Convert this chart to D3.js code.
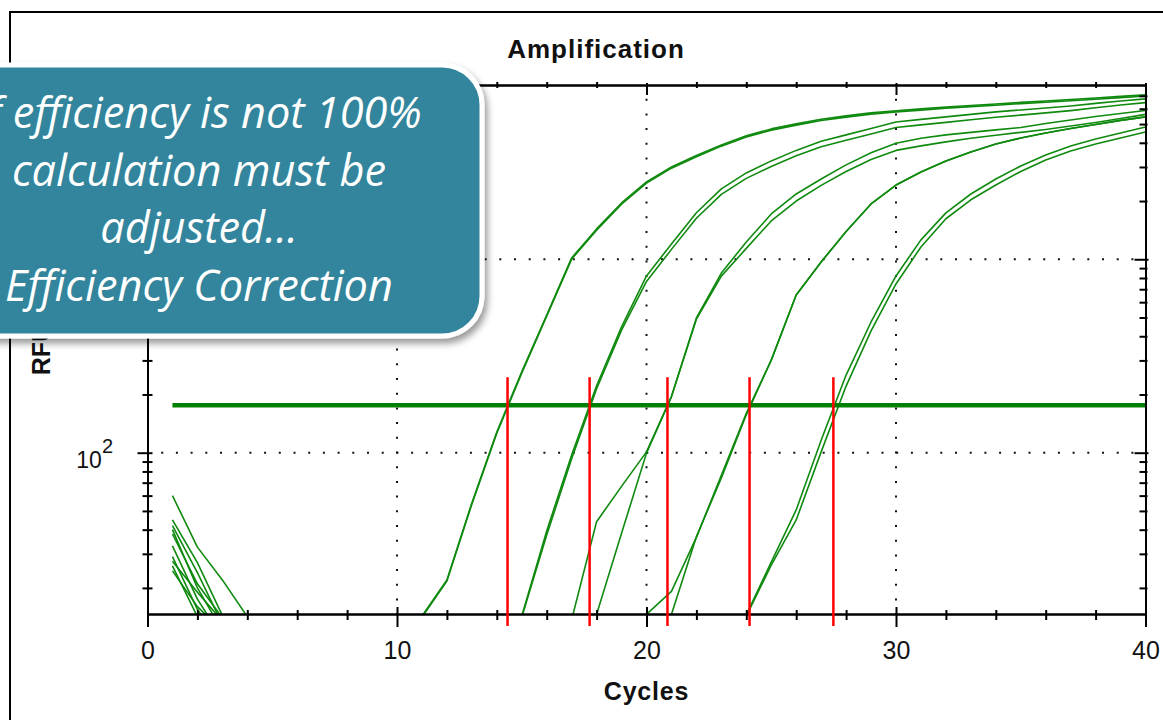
<!DOCTYPE html>
<html>
<head>
<meta charset="utf-8">
<script src="https://cdn.jsdelivr.net/npm/d3@7"></script>
<style>
  html, body { margin: 0; padding: 0; background: #fff; }
  svg { display: block; }
</style>
</head>
<body>
<svg id="chart" width="1163" height="720"></svg>
<script>
// ---- data -------------------------------------------------------------
// RFU readings per cycle (cycles 1..40), baseline-subtracted, one array per well.
const cycles = d3.range(1, 41);

const wellA1 = [60, 32.5, 22, 14.2, 10, 10, 10, 10, 10, 10,
  14.3, 22, 55, 128, 262, 515, 1016, 1435, 1955, 2510,
  3000, 3440, 3900, 4345, 4720, 5010, 5290, 5510, 5710, 5850,
  5990, 6130, 6240, 6350, 6470, 6580, 6700, 6820, 6950, 7080];
const wellA2 = [45, 27, 14.4, 10, 10, 10, 10, 10, 10, 10,
  14.1, 21.7, 54.2, 126, 258, 508, 1002, 1415, 1927, 2474,
  2957, 3391, 3845, 4283, 4653, 4939, 5215, 5432, 5629, 5767,
  5905, 6043, 6151, 6260, 6378, 6486, 6605, 6723, 6851, 6980];
const wellB1 = [42, 24, 13, 10, 10, 10, 10, 10, 10, 10,
  10, 10, 10, 10, 14.3, 39.4, 97.3, 222, 447, 820,
  1200, 1740, 2310, 2795, 3225, 3655, 4075, 4395, 4745, 5125,
  5285, 5445, 5610, 5780, 5915, 6055, 6205, 6395, 6580, 6745];
const wellB2 = [40, 20, 12, 10, 10, 10, 10, 10, 10, 10,
  10, 10, 10, 10, 14.1, 37.5, 93, 214, 430, 768,
  1125, 1630, 2165, 2620, 3020, 3425, 3820, 4120, 4445, 4800,
  4950, 5100, 5260, 5420, 5560, 5710, 5870, 6070, 6270, 6450];
const wellC1 = [33, 17.5, 11, 10, 10, 10, 10, 10, 10, 10,
  10, 10, 10, 10, 10, 10, 13.7, 44, 67, 101,
  195, 497, 849, 1228, 1715, 2175, 2600, 3075, 3550, 3975,
  4220, 4395, 4530, 4665, 4800, 5035, 5250, 5470, 5675, 5875];
const wellC2 = [29, 15.5, 10, 10, 10, 10, 10, 10, 10, 10,
  10, 10, 10, 10, 10, 10, 10, 14.6, 38.3, 99.5,
  195, 490, 818, 1138, 1578, 2000, 2410, 2845, 3280, 3655,
  3855, 4045, 4220, 4375, 4530, 4690, 4885, 5095, 5345, 5610];
const wellD1 = [26, 14.2, 10, 10, 10, 10, 10, 10, 10, 10,
  10, 10, 10, 10, 10, 10, 10, 10, 10, 14.6,
  19.2, 36.5, 76.5, 160, 301, 653, 968, 1393, 1932, 2420,
  2825, 3220, 3590, 3945, 4240, 4500, 4745, 4975, 5225, 5445];
const wellD2 = [27.5, 19, 13.5, 10, 10, 10, 10, 10, 10, 10,
  10, 10, 10, 10, 10, 10, 10, 10, 10, 10,
  14.6, 36.8, 74, 157, 301, 653, 968, 1393, 1932, 2420,
  2825, 3220, 3590, 3945, 4240, 4500, 4745, 4975, 5225, 5445];
const wellE1 = [24.5, 16, 12, 10, 10, 10, 10, 10, 10, 10,
  10, 10, 10, 10, 10, 10, 10, 10, 10, 10,
  10, 10, 10, 14.5, 27.2, 50.6, 116, 252, 474, 820,
  1260, 1738, 2175, 2600, 3035, 3460, 3855, 4190, 4500, 4830];
const wellE2 = [38, 21, 14, 10, 10, 10, 10, 10, 10, 10,
  10, 10, 10, 10, 10, 10, 10, 10, 10, 10,
  10, 10, 10, 14.3, 26.2, 44.9, 101, 221, 426, 745,
  1158, 1620, 2030, 2420, 2845, 3260, 3630, 3945, 4240, 4550];

const threshold = 176;                                  // RFU
const ctValues = [14.43, 17.72, 20.84, 24.13, 27.49];   // threshold cycles
const xMajorTicks = [0, 10, 20, 30, 40];
const xMinorTicks = [2, 4, 6, 8, 12, 14, 16, 18, 22, 24, 26, 28, 32, 34, 36, 38];
const yDecades = [100, 1000];
const yMinorTicks = [20, 30, 40, 50, 60, 70, 80, 90,
  200, 300, 400, 500, 600, 700, 800, 900,
  2000, 3000, 4000, 5000, 6000, 7000];
const calloutLines = ["If efficiency is not 100%", "calculation must be", "adjusted…", "Efficiency Correction"];

// ---- layout -----------------------------------------------------------
const W = 1163, H = 720;
const plot = { left: 147.5, right: 1145.5, top: 85, bottom: 614 };
const sans = "'Liberation Sans', Arial, sans-serif";

const svg = d3.select("#chart");
const x = d3.scaleLinear().domain([0, 40]).range([plot.left, plot.right]);
const y = d3.scaleLog().domain([14.66, 7960]).range([plot.bottom, plot.top]);

const defs = svg.append("defs");
defs.append("clipPath").attr("id", "plot-clip")
  .append("rect")
  .attr("x", plot.left).attr("y", plot.top)
  .attr("width", plot.right - plot.left).attr("height", plot.bottom - plot.top);
const shadow = defs.append("filter").attr("id", "callout-shadow")
  .attr("x", "-10%").attr("y", "-10%").attr("width", "125%").attr("height", "130%");
shadow.append("feDropShadow")
  .attr("dx", 3).attr("dy", 5).attr("stdDeviation", 3.5)
  .attr("flood-color", "#000").attr("flood-opacity", 0.4);

// panel frame
svg.append("path")
  .attr("d", `M10,${H} V12 H${W}`)
  .attr("fill", "none").attr("stroke", "#000").attr("stroke-width", 2);

// title
svg.append("text")
  .attr("x", 596).attr("y", 58)
  .attr("text-anchor", "middle")
  .attr("font-family", sans).attr("font-weight", "bold").attr("font-size", 26)
  .attr("letter-spacing", 1)
  .attr("fill", "#111")
  .text("Amplification");

// dotted grid
const grid = svg.append("g")
  .attr("stroke", "#111").attr("stroke-width", 2)
  .attr("stroke-dasharray", "2 12.7").attr("stroke-dashoffset", 1);
grid.selectAll("line.gx").data([10, 20, 30]).join("line").attr("class", "gx")
  .attr("x1", d => x(d)).attr("x2", d => x(d))
  .attr("y1", plot.top).attr("y2", plot.bottom);
grid.selectAll("line.gy").data(yDecades).join("line").attr("class", "gy")
  .attr("x1", plot.left).attr("x2", plot.right)
  .attr("y1", d => y(d)).attr("y2", d => y(d));

// amplification curves
const wells = [wellA1, wellA2, wellB1, wellB2, wellC1, wellC2, wellD1, wellD2, wellE1, wellE2];
const curve = d3.line()
  .x((d, i) => x(cycles[i]))
  .y(d => y(d));
const plotArea = svg.append("g").attr("clip-path", "url(#plot-clip)");
plotArea.selectAll("path.well").data(wells).join("path").attr("class", "well")
  .attr("d", curve)
  .attr("fill", "none")
  .attr("stroke", "#0f8a0f")
  .attr("stroke-width", 1.6)
  .attr("stroke-linejoin", "round");

// threshold line
plotArea.append("line")
  .attr("x1", x(1)).attr("x2", x(40))
  .attr("y1", y(threshold)).attr("y2", y(threshold))
  .attr("stroke", "#008000").attr("stroke-width", 4.5);

// ---- axes -------------------------------------------------------------
function styleAxis(g) {
  g.select(".domain").attr("stroke", "#000").attr("stroke-width", 2);
  g.selectAll(".tick line").attr("stroke", "#000").attr("stroke-width", 2);
}

// bottom
const axBottomMinor = svg.append("g").attr("transform", `translate(0,${plot.bottom})`)
  .call(d3.axisBottom(x).tickValues(xMinorTicks).tickSize(6).tickSizeOuter(0).tickFormat(""));
axBottomMinor.selectAll(".tick line").attr("y1", -4);
styleAxis(axBottomMinor);
const axBottom = svg.append("g").attr("transform", `translate(0,${plot.bottom})`)
  .call(d3.axisBottom(x).tickValues(xMajorTicks).tickSize(13).tickSizeOuter(0).tickFormat(d3.format("d")));
axBottom.selectAll(".tick line").attr("y1", -7);
axBottom.selectAll(".tick text")
  .attr("y", 45).attr("dy", null)
  .attr("font-family", sans).attr("font-size", 25).attr("fill", "#111");
styleAxis(axBottom);

// top
const axTopMinor = svg.append("g").attr("transform", `translate(0,${plot.top})`)
  .call(d3.axisTop(x).tickValues(xMinorTicks).tickSize(3).tickSizeOuter(0).tickFormat(""));
axTopMinor.selectAll(".tick line").attr("y1", 3);
styleAxis(axTopMinor);
const axTop = svg.append("g").attr("transform", `translate(0,${plot.top})`)
  .call(d3.axisTop(x).tickValues(xMajorTicks).tickSize(2).tickSizeOuter(0).tickFormat(""));
axTop.selectAll(".tick line").attr("y1", 10);
styleAxis(axTop);

// left
const axLeftMinor = svg.append("g").attr("transform", `translate(${plot.left},0)`)
  .call(d3.axisLeft(y).tickValues(yMinorTicks).tickSize(5).tickSizeOuter(0).tickFormat(""));
axLeftMinor.selectAll(".tick line").attr("x1", 5);
styleAxis(axLeftMinor);
const axLeft = svg.append("g").attr("transform", `translate(${plot.left},0)`)
  .call(d3.axisLeft(y).tickValues(yDecades).tickSize(10).tickSizeOuter(0)
    .tickFormat(d => String(Math.round(Math.log10(d)))));
axLeft.selectAll(".tick line").attr("x1", 5);
axLeft.selectAll(".tick text").each(function () {
  const t = d3.select(this);
  const exponent = t.text();
  t.text(null)
    .attr("x", -34.5).attr("y", 14.3).attr("dy", null)
    .attr("text-anchor", "end")
    .attr("font-family", sans).attr("fill", "#111");
  t.append("tspan").attr("font-size", 23).text("10");
  t.append("tspan").attr("font-size", 20).attr("dy", -15).text(exponent);
});
styleAxis(axLeft);

// right
const axRightMinor = svg.append("g").attr("transform", `translate(${plot.right},0)`)
  .call(d3.axisRight(y).tickValues(yMinorTicks).tickSize(2).tickSizeOuter(0).tickFormat(""));
axRightMinor.selectAll(".tick line").attr("x1", -6);
styleAxis(axRightMinor);
const axRight = svg.append("g").attr("transform", `translate(${plot.right},0)`)
  .call(d3.axisRight(y).tickValues(yDecades).tickSize(3).tickSizeOuter(0).tickFormat(""));
axRight.selectAll(".tick line").attr("x1", -11);
styleAxis(axRight);

// axis titles
svg.append("text")
  .attr("x", (plot.left + plot.right) / 2).attr("y", 700)
  .attr("text-anchor", "middle")
  .attr("font-family", sans).attr("font-weight", "bold").attr("font-size", 25)
  .attr("letter-spacing", 0.8).attr("fill", "#111")
  .text("Cycles");
svg.append("text")
  .attr("transform", `translate(50,${(plot.top + plot.bottom) / 2}) rotate(-90)`)
  .attr("text-anchor", "middle")
  .attr("font-family", sans).attr("font-weight", "bold").attr("font-size", 25)
  .attr("fill", "#111")
  .text("RFU");

// threshold-cycle markers
svg.selectAll("line.ct").data(ctValues).join("line").attr("class", "ct")
  .attr("x1", d => x(d)).attr("x2", d => x(d))
  .attr("y1", y(threshold) - 28).attr("y2", plot.bottom + 12)
  .attr("stroke", "#ff0000").attr("stroke-width", 2.5);

// ---- callout ----------------------------------------------------------
const callout = svg.append("g");
callout.append("rect")
  .attr("x", -40).attr("y", 65).attr("width", 522).attr("height", 271).attr("rx", 40)
  .attr("fill", "#31859C").attr("stroke", "#fff").attr("stroke-width", 5)
  .attr("filter", "url(#callout-shadow)");
const calloutText = callout.selectAll("text").data(calloutLines).join("text")
  .attr("x", 199).attr("y", (d, i) => 128 + i * 57.7)
  .attr("text-anchor", "middle")
  .attr("font-family", "'Open Sans', Lato, sans-serif")
  .attr("font-style", "italic")
  .attr("font-size", 40)
  .attr("fill", "#fff")
  .text(d => d);
// size the type so the longest wrapped line spans 388px
const lastLine = calloutText.filter((d, i) => i === calloutLines.length - 1).node();
const fitted = 40 * 388 / lastLine.getComputedTextLength();
calloutText.attr("font-size", fitted);
</script>
</body>
</html>
